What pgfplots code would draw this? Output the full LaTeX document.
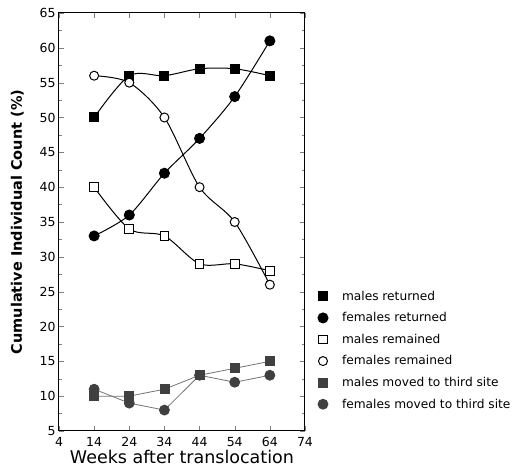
\documentclass[border=0pt]{standalone}
\usepackage{pgfplots}
\pgfplotsset{compat=1.18}
\usepackage{fontspec}
\setmainfont{DejaVu Sans}
\begin{document}
\begin{tikzpicture}
\path[use as bounding box] (-59pt,-39pt) rectangle (453pt,431pt);
\begin{axis}[
 width=246pt, height=418pt, scale only axis,
 xmin=4, xmax=74, ymin=5, ymax=65,
 xtick={4,14,...,74}, ytick={5,10,...,65},
 minor y tick num=1,
 tick align=inside,
 major tick length=5pt, minor tick length=3pt,
 axis line style={line width=1pt},
 /pgf/number format/assume math mode=true,
 tick label style={font=\fontsize{12.5}{12.5}\selectfont},
 xticklabel style={yshift=-3pt},
 yticklabel style={xshift=0pt},
 xlabel={Weeks after translocation},
 xlabel style={font=\fontsize{17.5}{17.5}\selectfont, yshift=4pt},
 ylabel={\textbf{Cumulative Individual Count (\%)}},
 ylabel style={font=\fontsize{14.5}{14.5}\selectfont, yshift=9pt},
 legend style={draw=none, at={(1.035,0.345)}, anchor=north west, font=\fontsize{12.2}{12.2}\selectfont, row sep=6.8pt, fill=none},
 legend cell align=left,
 legend image code/.code={\path (0,0) (0.78cm,0); \draw[#1,only marks] plot coordinates {(0.2cm,0cm)};},
 every axis plot/.append style={line width=1pt},
]
\addplot[black, smooth, tension=0.5, mark=square*, mark size=4.5pt, mark options={fill=black}] coordinates {(14,50)(24,56)(34,56)(44,57)(54,57)(64,56)};
\addlegendentry{males returned}
\addplot[black, smooth, tension=0.5, mark=*, mark size=5pt, mark options={fill=black}] coordinates {(14,33)(24,36)(34,42)(44,47)(54,53)(64,61)};
\addlegendentry{females returned}
\addplot[black, smooth, tension=0.5, mark=square*, mark size=4.3pt, mark options={fill=white, line width=1pt}] coordinates {(14,40)(24,34)(34,33)(44,29)(54,29)(64,28)};
\addlegendentry{males remained}
\addplot[black, smooth, tension=0.5, mark=*, mark size=4.5pt, mark options={fill=white, line width=1pt}] coordinates {(14,56)(24,55)(34,50)(44,40)(54,35)(64,26)};
\addlegendentry{females remained}
\addplot[black!55, line width=0.8pt, mark=square*, mark size=4.5pt, mark options={fill=black!75, draw=black!75}] coordinates {(14,10)(24,10)(34,11)(44,13)(54,14)(64,15)};
\addlegendentry{males moved to third site}
\addplot[black!55, line width=0.8pt, mark=*, mark size=5pt, mark options={fill=black!75, draw=black!75}] coordinates {(14,11)(24,9)(34,8)(44,13)(54,12)(64,13)};
\addlegendentry{females moved to third site}
\end{axis}
\end{tikzpicture}
\end{document}
